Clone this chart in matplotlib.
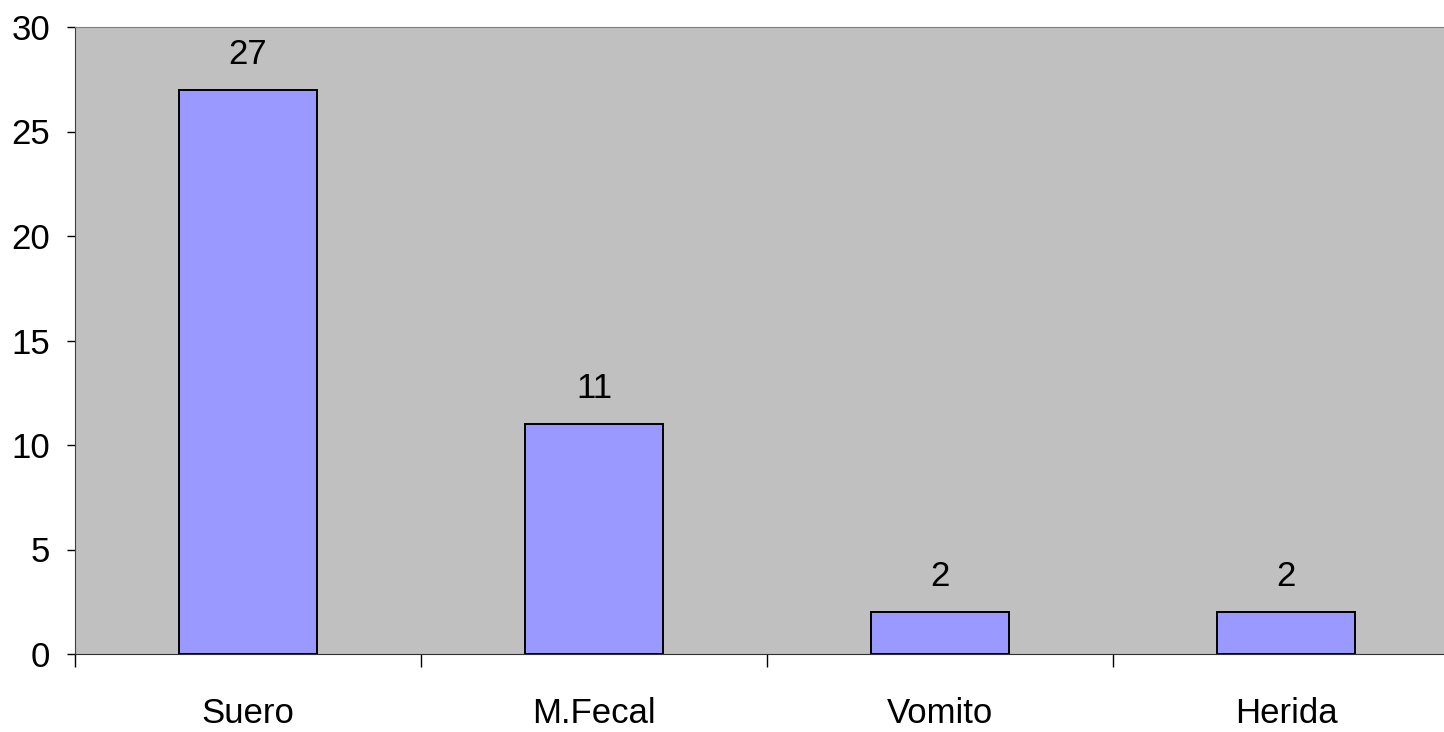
import numpy as np
import matplotlib.pyplot as plt

categories = ['Suero', 'M.Fecal', 'Vomito', 'Herida']
values = [27, 11, 2, 2]

plt.rcParams['font.family'] = ['Liberation Sans Narrow', 'Liberation Sans', 'DejaVu Sans']

fig = plt.figure(figsize=(14.44, 7.32), dpi=100)
ax = fig.add_axes([75 / 1444, 78 / 732, (1459 - 75) / 1444, 627 / 732])
ax.set_facecolor('#C0C0C0')

x = np.arange(len(categories))
bars = ax.bar(x, values, width=0.4, color='#9999FF', edgecolor='black', linewidth=1.4, zorder=3)
for xi, v in zip(x, values):
    ax.text(xi, v + 0.9, str(v), ha='center', va='bottom', fontsize=25)

ax.set_xlim(-0.5, len(categories) - 0.5)
ax.set_ylim(0, 30)
ax.set_yticks(range(0, 31, 5))
ax.tick_params(axis='y', labelsize=25, length=6, width=1, direction='out', pad=12)

# category labels centered, ticks at boundaries
ax.set_xticks(np.arange(len(categories) + 1) - 0.5)
ax.set_xticklabels([])
ax.set_xticks(x, minor=True)
ax.set_xticklabels(categories, minor=True)
ax.tick_params(axis='x', which='major', length=9, width=1, direction='out')
ax.tick_params(axis='x', which='minor', length=0, labelsize=25, pad=31)

for side in ['top', 'right']:
    ax.spines[side].set_color('#808080')
ax.spines['left'].set_color('#404040')
ax.spines['bottom'].set_color('#303030')

fig.savefig('out.png', dpi=100)
plt.close()
